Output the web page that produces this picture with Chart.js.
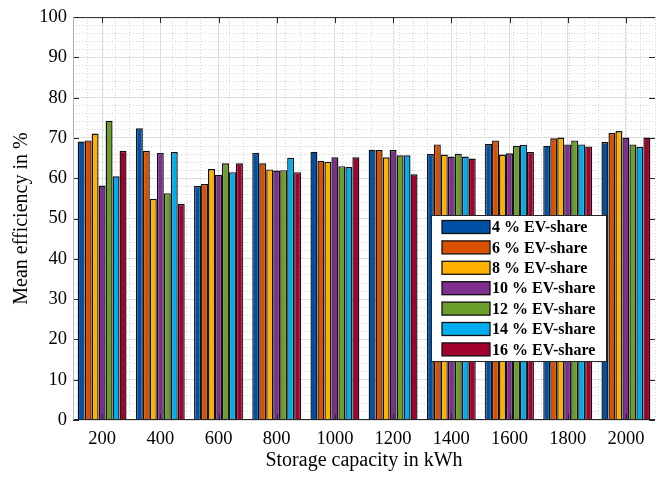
<!DOCTYPE html>
<html>
<head>
<meta charset="utf-8">
<script src="https://cdn.jsdelivr.net/npm/chart.js@4"></script>
<style>
  html, body { margin: 0; padding: 0; background: #fff; }
  #wrap { width: 664px; height: 477px; }
</style>
</head>
<body>
<div id="wrap"><canvas id="grafik"></canvas></div>
<script>
// capacities in kWh
const kapasitas = ['200', '400', '600', '800', '1000', '1200', '1400', '1600', '1800', '2000'];

// mean efficiency (%) per EV share
const ev4  = [69.1, 72.4, 58.1, 66.3, 66.6, 67.1, 66.0, 68.5, 68.1, 69.0];
const ev6  = [69.4, 66.8, 58.6, 63.7, 64.3, 67.0, 68.4, 69.4, 69.9, 71.3];
const ev8  = [71.1, 54.9, 62.3, 62.2, 64.1, 65.2, 65.9, 65.9, 70.1, 71.7];
const ev10 = [58.2, 66.3, 60.9, 61.9, 65.2, 67.0, 65.4, 66.2, 68.4, 70.1];
const ev12 = [74.3, 56.3, 63.7, 62.0, 63.0, 65.7, 66.1, 68.1, 69.4, 68.4];
const ev14 = [60.5, 66.5, 61.5, 65.1, 62.8, 65.7, 65.4, 68.3, 68.4, 67.8];
const ev16 = [66.8, 53.6, 63.7, 61.5, 65.2, 61.0, 64.9, 66.5, 67.9, 70.1];

const label = ['4 % EV-share', '6 % EV-share', '8 % EV-share', '10 % EV-share',
               '12 % EV-share', '14 % EV-share', '16 % EV-share'];
const warna = ['#0050a6', '#d95000', '#ffb000', '#7e2f8e', '#6b9e2a', '#00aeef', '#a2002f'];

const serif = '"Liberation Serif", "Times New Roman", serif';
const seri = [ev4, ev6, ev8, ev10, ev12, ev14, ev16];

// axis lines + inward ticks like MATLAB
const bingkai = {
    id: 'bingkai',
    afterDatasetsDraw(chart) {
        const { ctx, chartArea: a, scales } = chart;
        ctx.save();
        ctx.strokeStyle = '#262626';
        ctx.lineWidth = 1;
        ctx.beginPath();
        scales.y.ticks.forEach(t => {
            const py = Math.round(scales.y.getPixelForValue(t.value)) + 0.5;
            ctx.moveTo(a.left, py); ctx.lineTo(a.left + 6, py);
            ctx.moveTo(a.right, py); ctx.lineTo(a.right - 6, py);
        });
        kapasitas.forEach((k, i) => {
            const px = Math.round(scales.x.getPixelForValue(i)) + 0.5;
            ctx.moveTo(px, a.bottom); ctx.lineTo(px, a.bottom - 6);
            ctx.moveTo(px, a.top); ctx.lineTo(px, a.top + 6);
        });
        // top and bottom lines dark
        ctx.moveTo(a.left, a.top + 0.5); ctx.lineTo(a.right, a.top + 0.5);
        ctx.moveTo(a.left, a.bottom - 0.5); ctx.lineTo(a.right, a.bottom - 0.5);
        ctx.stroke();
        // left side lighter
        ctx.strokeStyle = '#b4b4b4';
        ctx.beginPath();
        ctx.moveTo(a.left + 0.5, a.top); ctx.lineTo(a.left + 0.5, a.bottom);
        ctx.stroke();
        ctx.restore();
    }
};

// legend box inside plot
const legenda = {
    id: 'legenda',
    afterDraw(chart) {
        const ctx = chart.ctx;
        const x0 = 431, y0 = 215, w = 175, h = 146;
        ctx.save();
        ctx.fillStyle = '#fff';
        ctx.fillRect(x0, y0, w, h);
        ctx.strokeStyle = '#262626';
        ctx.lineWidth = 1;
        ctx.strokeRect(x0 + 0.5, y0 + 0.5, w, h);
        ctx.font = 'bold 16px ' + serif;
        ctx.textBaseline = 'middle';
        chart.data.datasets.forEach((ds, i) => {
            const cy = y0 + 12 + i * 20.4;
            ctx.fillStyle = ds.backgroundColor;
            ctx.fillRect(x0 + 11, cy - 6.5, 48, 13);
            ctx.strokeStyle = '#111';
            ctx.lineWidth = 1.3;
            ctx.strokeRect(x0 + 11, cy - 6.5, 48, 13);
            ctx.fillStyle = '#000';
            ctx.fillText(ds.label, x0 + 61, cy + 1);
        });
        ctx.restore();
    }
};

new Chart(document.getElementById('grafik'), {
    type: 'bar',
    data: {
        labels: kapasitas,
        datasets: seri.map((d, i) => ({
            label: label[i],
            data: d,
            backgroundColor: warna[i],
            borderColor: '#111',
            borderWidth: 1.4,
            barPercentage: 1.0,
            categoryPercentage: 0.84
        }))
    },
    options: {
        responsive: true,
        maintainAspectRatio: false,
        animation: false,
        layout: { padding: { top: 14, right: 9, left: 0, bottom: 0 } },
        plugins: { legend: { display: false }, tooltip: { enabled: false } },
        scales: {
            x: {
                type: 'category',
                offset: true,
                grid: { offset: false, color: '#dedede', drawTicks: false },
                border: { display: false },
                ticks: { color: '#000', padding: 8, font: { family: serif, size: 18.5 } },
                title: {
                    display: true, text: 'Storage capacity in kWh', color: '#000',
                    font: { family: serif, size: 20 }, padding: { top: 0, bottom: 4 }
                },
                afterFit: s => { s.height = 57; }
            },
            xMinor: {
                type: 'linear', position: 'bottom', min: 100, max: 2100,
                ticks: { display: false, stepSize: 50 },
                grid: {
                    drawTicks: false,
                    color: c => (c.tick && (c.tick.value - 200) % 200 === 0) ? 'rgba(0,0,0,0)' : '#d2d2d2'
                },
                border: { display: false, dash: [1, 2] },
                afterFit: s => { s.height = 0; }
            },
            y: {
                min: 0, max: 100,
                ticks: { stepSize: 10, color: '#000', padding: 6, font: { family: serif, size: 18.5 } },
                grid: { color: '#dedede', drawTicks: false },
                border: { display: false },
                title: {
                    display: true, text: 'Mean efficiency in %', color: '#000',
                    font: { family: serif, size: 20 }, padding: { top: 10, bottom: 0 }
                },
                afterFit: s => { s.width = 73; }
            },
            yMinor: {
                type: 'linear', position: 'left', min: 0, max: 100,
                ticks: { display: false, stepSize: 2 },
                grid: {
                    drawTicks: false,
                    color: c => (c.tick && c.tick.value % 10 === 0) ? 'rgba(0,0,0,0)' : '#d2d2d2'
                },
                border: { display: false, dash: [1, 2] },
                afterFit: s => { s.width = 0; }
            }
        }
    },
    plugins: [bingkai, legenda]
});
</script>
</body>
</html>
